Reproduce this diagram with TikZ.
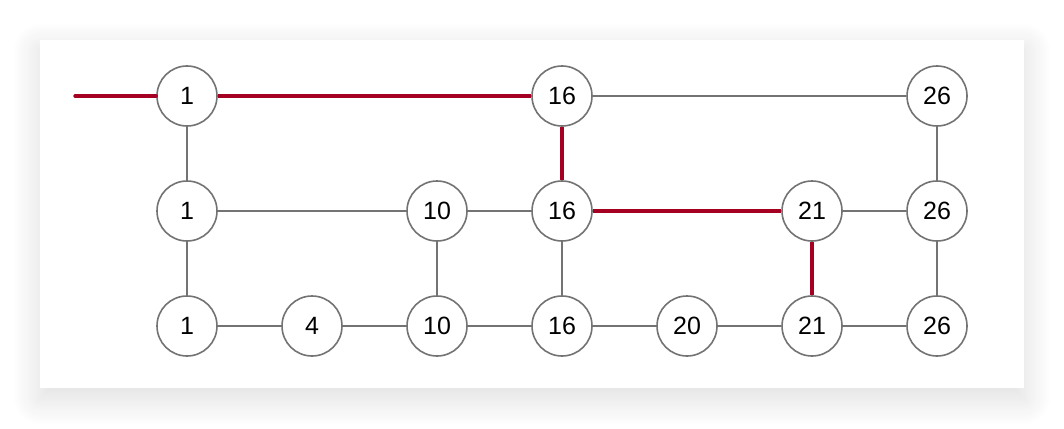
\documentclass[tikz,border=0pt]{standalone}
\usepackage{fontspec}
\setmainfont{Liberation Sans}
\usetikzlibrary{shadows.blur}
\definecolor{edgegray}{HTML}{737373}
\definecolor{pathred}{HTML}{A50021}
\tikzset{
  cell/.style={circle,draw=edgegray,line width=1.6pt,fill=white,minimum size=60pt,inner sep=0pt,font=\fontsize{25}{28}\selectfont},
  link/.style={draw=edgegray,line width=1.6pt},
  best/.style={draw=pathred,line width=3.4pt}
}
\begin{document}
\begin{tikzpicture}[x=1pt,y=-1pt]
        \useasboundingbox (0,0) rectangle (1064,428);
        \fill[white,blur shadow={shadow xshift=0pt,shadow yshift=-10pt,shadow blur radius=28pt,shadow opacity=14,shadow blur steps=20}] (40,40) rectangle (1024,388); % card
        % top row
        \node[cell] (t1) at (187,96) {1};
        \node[cell] (t16) at (562,96) {16};
        \node[cell] (t26) at (937,96) {26};
        % middle row
        \node[cell] (m1) at (187,211) {1};
        \node[cell] (m10) at (437,211) {10};
        \node[cell] (m16) at (562,211) {16};
        \node[cell] (m21) at (812,211) {21};
        \node[cell] (m26) at (937,211) {26};
        % bottom row
        \node[cell] (b1) at (187,326) {1};
        \node[cell] (b4) at (312,326) {4};
        \node[cell] (b10) at (437,326) {10};
        \node[cell] (b16) at (562,326) {16};
        \node[cell] (b20) at (687,326) {20};
        \node[cell] (b21) at (812,326) {21};
        \node[cell] (b26) at (937,326) {26};
        \coordinate (start) at (75,96);

        \draw[link] (t16) -- (t26);
        \draw[link] (t1) -- (m1);
        \draw[link] (t26) -- (m26);
        \draw[link] (m1) -- (m10);
        \draw[link] (m10) -- (m16);
        \draw[link] (m21) -- (m26);
        \draw[link] (m1) -- (b1);
        \draw[link] (m10) -- (b10);
        \draw[link] (m16) -- (b16);
        \draw[link] (m26) -- (b26);
        \draw[link] (b1) -- (b4);
        \draw[link] (b4) -- (b10);
        \draw[link] (b10) -- (b16);
        \draw[link] (b16) -- (b20);
        \draw[link] (b20) -- (b21);
        \draw[link] (b21) -- (b26);

        % red path
        \draw[best,line cap=round] (start) -- (t1.west);
        \draw[best] (t1) -- (t16);
        \draw[best] (t16) -- (m16);
        \draw[best] (m16) -- (m21);
        \draw[best] (m21) -- (b21);
    \end{tikzpicture}
\end{document}
